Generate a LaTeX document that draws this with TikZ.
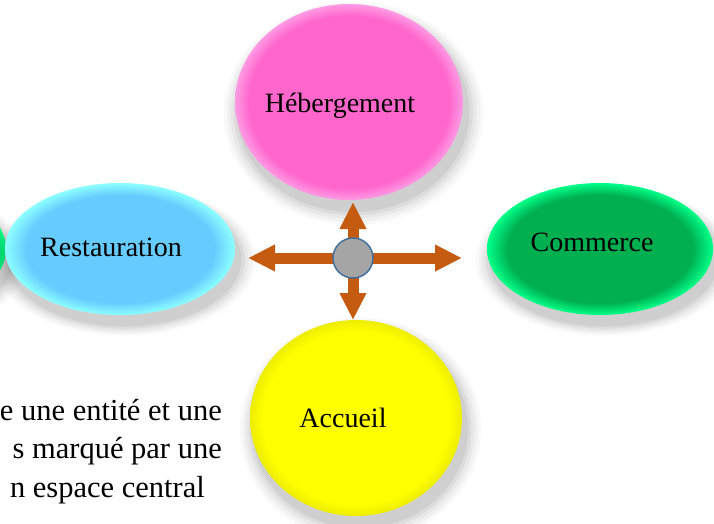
\documentclass[tikz,border=0pt]{standalone}
\usepackage{fontspec}
\setmainfont{Liberation Serif}
\usetikzlibrary{shapes.geometric,arrows.meta,shadows}
\definecolor{pinkf}{HTML}{FF66CC}
\definecolor{pinkr}{HTML}{FF9BE4}
\definecolor{bluef}{HTML}{66CCFF}
\definecolor{bluer}{HTML}{8CFFFF}
\definecolor{greenf}{HTML}{00B050}
\definecolor{greenr}{HTML}{00FF88}
\definecolor{yellowf}{HTML}{FFFF00}
\definecolor{yellowr}{HTML}{EDED00}
\definecolor{arrowc}{HTML}{C55A11}
\definecolor{hubfill}{HTML}{A5A5A5}
\definecolor{hubline}{HTML}{41719C}
\pgfdeclareradialshading{pinkglow}{\pgfpoint{0bp}{0bp}}{color(0bp)=(pinkf); color(22bp)=(pinkf); color(25bp)=(pinkr); color(50bp)=(pinkr)}
\pgfdeclareradialshading{blueglow}{\pgfpoint{0bp}{0bp}}{color(0bp)=(bluef); color(20.5bp)=(bluef); color(25bp)=(bluer); color(50bp)=(bluer)}
\pgfdeclareradialshading{greenglow}{\pgfpoint{0bp}{0bp}}{color(0bp)=(greenf); color(20.5bp)=(greenf); color(25bp)=(greenr); color(50bp)=(greenr)}
\pgfdeclareradialshading{yellowglow}{\pgfpoint{0bp}{0bp}}{color(0bp)=(yellowf); color(22bp)=(yellowf); color(25bp)=(yellowr); color(50bp)=(yellowr)}
\tikzset{
  softshadow/.style={
    general shadow={fill=black, fill opacity=0.025, shadow scale=1.14, shadow xshift=4pt, shadow yshift=-10pt},
    general shadow={fill=black, fill opacity=0.03, shadow scale=1.11, shadow xshift=4pt, shadow yshift=-10pt},
    general shadow={fill=black, fill opacity=0.04, shadow scale=1.08, shadow xshift=4pt, shadow yshift=-10pt},
    general shadow={fill=black, fill opacity=0.05, shadow scale=1.05, shadow xshift=4pt, shadow yshift=-10pt},
    general shadow={fill=black, fill opacity=0.06, shadow scale=1.02, shadow xshift=4pt, shadow yshift=-10pt}},
  bubble/.style={ellipse, inner sep=0pt, softshadow},
  lbl/.style={font=\fontsize{28}{34}\selectfont, inner sep=0pt, anchor=base},
  body/.style={font=\fontsize{30.5}{38}\selectfont, inner sep=0pt, anchor=base east},
  arr/.style={draw=arrowc, line width=11pt, -{Triangle[width=25pt,length=27pt]}},
  hubstyle/.style={circle, fill=hubfill, draw=hubline, line width=1.5pt, minimum size=40pt, inner sep=0pt}
}
\begin{document}
\begin{tikzpicture}[x=1pt,y=-1pt]
\useasboundingbox (0,0) rectangle (714,523);
% bubbles
\node[bubble, shading=greenglow, minimum width=226pt, minimum height=132pt] (lgreen) at (-107,249) {};
\node[bubble, shading=pinkglow, minimum width=228pt, minimum height=196pt] (heb) at (349,102) {};
\node[bubble, shading=blueglow, minimum width=230pt, minimum height=132pt] (res) at (120,249) {};
\node[bubble, shading=greenglow, minimum width=226pt, minimum height=132pt] (com) at (600,249) {};
\node[bubble, shading=yellowglow, minimum width=212pt, minimum height=196pt] (acc) at (356,418) {};
% arrows
\coordinate (hc) at (353,258);
\coordinate (tl) at (248,258);
\coordinate (tr) at (462,258);
\coordinate (tu) at (353,202);
\coordinate (td) at (353,320);
\draw[arr] (hc) -- (tl);
\draw[arr] (hc) -- (tr);
\draw[arr] (hc) -- (tu);
\draw[arr] (hc) -- (td);
\node[hubstyle] (hub) at (hc) {};
% labels
\node[lbl] (hebt) at (340,112) {Hébergement};
\node[lbl] (rest) at (111,256) {Restauration};
\node[lbl] (comt) at (592,251) {Commerce};
\node[lbl] (acct) at (343,427) {Accueil};
% body text
\node[body] (b1) at (222,420) {e une entité et une};
\node[body] (b2) at (222,458) {s marqué par une};
\node[body] (b3) at (205,497) {n espace central};
\end{tikzpicture}
\end{document}
